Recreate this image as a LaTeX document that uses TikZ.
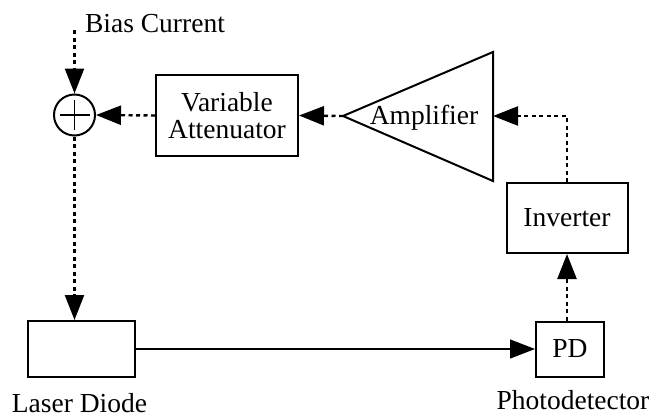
\documentclass[tikz,border=0pt]{standalone}
\usepackage{fontspec}
\setmainfont{Liberation Serif}
\usetikzlibrary{arrows.meta}
\begin{document}
\begin{tikzpicture}[x=1pt,y=-1pt,
  font=\fontsize{27.5}{27}\selectfont,
  blk/.style={draw,line width=2pt,inner sep=0pt,align=center},
  lbl/.style={inner sep=0pt,anchor=base},
  tip/.style={-{Triangle[length=25pt,width=19pt]}},
  sig/.style={tip,line width=2.4pt,dash pattern=on 4pt off 3.5pt},
  beam/.style={tip,line width=1.2pt}]
  \useasboundingbox (0,0) rectangle (650,418);

  % summing junction
  \node[draw,circle,line width=2pt,minimum size=41pt,inner sep=0pt] (sum) at (74.5,115) {};
  \draw[line width=1.6pt] ([xshift=-15pt]sum.center) -- ([xshift=15pt]sum.center);
  \draw[line width=1.6pt] ([yshift=-15pt]sum.center) -- ([yshift=15pt]sum.center);

  % blocks
  \node[blk,minimum width=142pt,minimum height=81pt] (att) at (227,115.5) {Variable\\Attenuator};
  \node[blk,minimum width=121pt,minimum height=70pt] (inv) at (567,218) {Inverter};
  \node[blk,minimum width=68pt,minimum height=55pt] (pd) at (570,349) {PD};
  \node[blk,minimum width=107pt,minimum height=56pt] (ld) at (81.5,349) {};

  % amplifier triangle
  \coordinate (amptip) at (343,116);
  \coordinate (amptop) at (493,52);
  \coordinate (ampbot) at (493,181);
  \coordinate (ampin) at (493,116);
  \draw[line width=2pt,line join=miter] (amptip) -- (amptop) -- (ampbot) -- cycle;
  \node[lbl] (amplbl) at (424,124) {Amplifier};

  % labels
  \node[lbl] (biaslbl) at (155,32) {Bias Current};
  \coordinate (biastop) at (74.5,30);
  \node[lbl] (ldlbl) at (79.5,412) {Laser Diode};
  \node[lbl] (pdlbl) at (573,409) {Photodetector};

  % connectors
  \draw[sig] (biastop) -- (sum.north);
  \draw[sig] (amptip) -- (att.east);
  \draw[sig] (att.west) -- (sum.east);
  \draw[sig] (sum.south) -- (sum.south |- ld.north);
  \draw[sig] (inv.north) |- (ampin);
  \draw[sig] (pd.north -| inv.south) -- (inv.south);
  \draw[beam] (ld.east) -- (pd.west);
\end{tikzpicture}
\end{document}
